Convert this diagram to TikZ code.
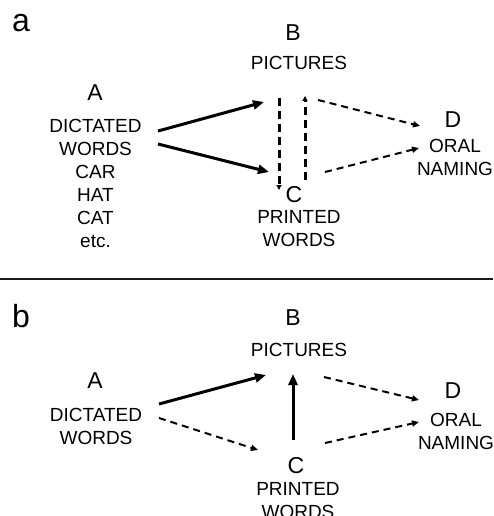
\documentclass[tikz,border=0pt]{standalone}
\usepackage{fontspec}
\setmainfont{Liberation Sans}
\usetikzlibrary{arrows.meta}

\tikzset{
  lbl/.style={font=\fontsize{19}{23}\selectfont, inner sep=0pt, align=center},
  letter/.style={font=\fontsize{23}{27}\selectfont, inner sep=0pt, anchor=base},
  panel/.style={font=\fontsize{32}{36}\selectfont, inner sep=0pt, anchor=base},
  solidarrow/.style={line width=3pt, -{Triangle[length=11pt,width=9pt]}},
  vdash/.style={line width=3pt, dash pattern=on 8pt off 5pt, -{Triangle[length=5pt,width=5pt]}},
  thindash/.style={line width=2pt, dash pattern=on 7pt off 5pt, -{Triangle[length=7pt,width=6pt]}},
}

\begin{document}
\begin{tikzpicture}[x=1pt,y=-1pt]
\useasboundingbox (0,0) rectangle (493,516);

% ---------------- panel a ----------------
\node[panel] (pa) at (21,32) {a};
\node[letter] (aB) at (293,41) {B};
\node[lbl, anchor=base] (aBt) at (299,70) {PICTURES};
\node[letter] (aA) at (95,100) {A};
\node[lbl, anchor=north] (aAt) at (95.5,119) {DICTATED\\WORDS\\CAR\\HAT\\CAT\\etc.};
\node[letter] (aD) at (453,127) {D};
\node[lbl, anchor=north] (aDt) at (455,139) {ORAL\\NAMING};
\node[letter] (aC) at (294,202) {C};
\node[lbl, anchor=north] (aCt) at (299,210) {PRINTED\\WORDS};

\coordinate (aAB0) at (158,131); \coordinate (aAB1) at (264,102);
\coordinate (aAC0) at (158,144); \coordinate (aAC1) at (269,172);
\coordinate (aBC0) at (279,98);  \coordinate (aBC1) at (279,190);
\coordinate (aCB0) at (305,180); \coordinate (aCB1) at (305,96);
\coordinate (aBD0) at (318,100); \coordinate (aBD1) at (420,126);
\coordinate (aCD0) at (325,172); \coordinate (aCD1) at (419,148);

\draw[solidarrow] (aAB0) -- (aAB1);
\draw[solidarrow] (aAC0) -- (aAC1);
\draw[vdash] (aBC0) -- (aBC1);
\draw[vdash] (aCB0) -- (aCB1);
\draw[thindash] (aBD0) -- (aBD1);
\draw[thindash] (aCD0) -- (aCD1);

% ---------------- separator ----------------
\coordinate (sepL) at (0,279);
\coordinate (sepR) at (493,279);
\draw[line width=2.5pt, black!90] (sepL) -- (sepR);

% ---------------- panel b ----------------
\node[panel] (pb) at (21,327) {b};
\node[letter] (bB) at (293,325) {B};
\node[lbl, anchor=base] (bBt) at (299,356) {PICTURES};
\node[letter] (bA) at (95,388) {A};
\node[lbl, anchor=north] (bAt) at (96,408) {DICTATED\\WORDS};
\node[letter] (bD) at (453,398) {D};
\node[lbl, anchor=north] (bDt) at (456,413) {ORAL\\NAMING};
\node[letter] (bC) at (296,473) {C};
\node[lbl, anchor=north] (bCt) at (298,482) {PRINTED\\WORDS};

\coordinate (bAB0) at (159,404); \coordinate (bAB1) at (266,375);
\coordinate (bAC0) at (159,418); \coordinate (bAC1) at (258,450);
\coordinate (bCB0) at (293,440); \coordinate (bCB1) at (293,374);
\coordinate (bBD0) at (324,377); \coordinate (bBD1) at (419,400);
\coordinate (bCD0) at (325,443); \coordinate (bCD1) at (419,422);

\draw[solidarrow] (bAB0) -- (bAB1);
\draw[thindash] (bAC0) -- (bAC1);
\draw[solidarrow] (bCB0) -- (bCB1);
\draw[thindash] (bBD0) -- (bBD1);
\draw[thindash] (bCD0) -- (bCD1);
\end{tikzpicture}
\end{document}
